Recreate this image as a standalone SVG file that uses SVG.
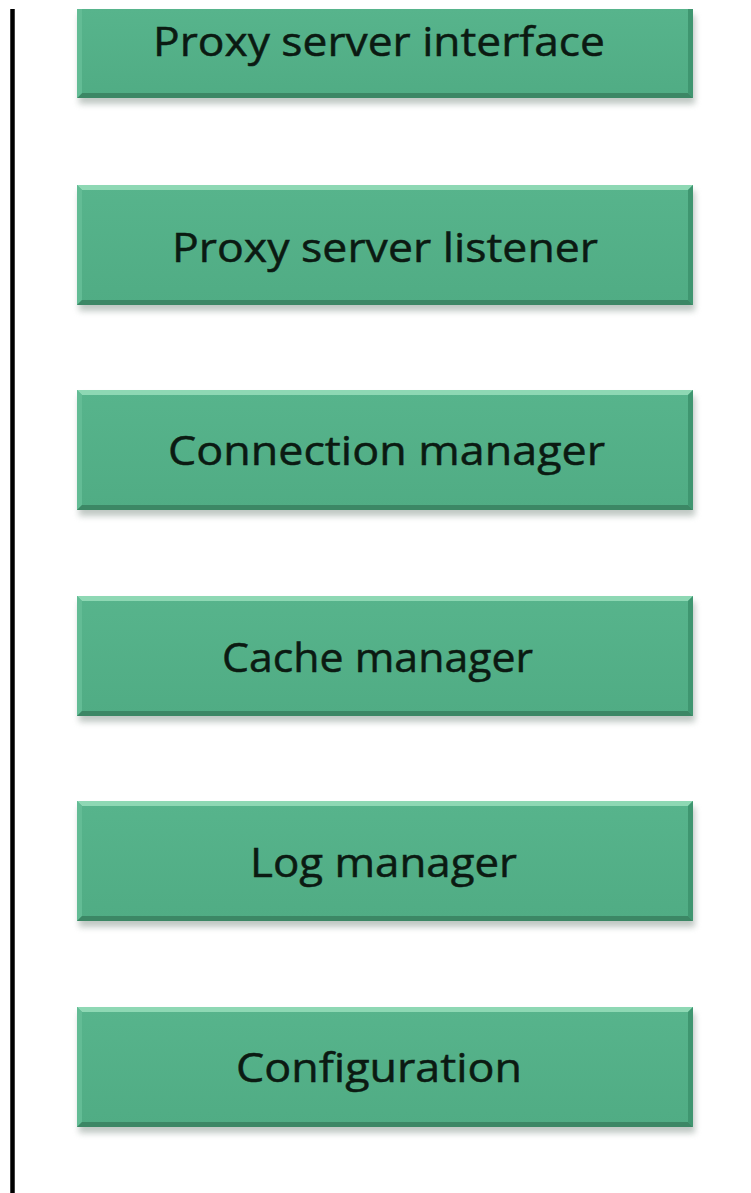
<svg xmlns="http://www.w3.org/2000/svg" width="751" height="1193" viewBox="0 0 751 1193">
<defs>
<filter id="sh" x="-5%" y="-20%" width="110%" height="150%"><feGaussianBlur stdDeviation="3"/></filter>
<linearGradient id="body" x1="0" y1="0" x2="0" y2="1">
<stop offset="0" stop-color="#57b48c"/><stop offset="1" stop-color="#50ac84"/>
</linearGradient>
<g id="box">
<rect x="2" y="6" width="616" height="120" fill="#8a9a92" opacity="0.55" filter="url(#sh)"/>
<rect x="0" y="0" width="616" height="120" fill="url(#body)"/>
<polygon points="0,0 616,0 611,5 5,5" fill="#8ed8b4"/>
<polygon points="0,0 5,5 5,115 0,120" fill="#63bc95"/>
<polygon points="616,0 616,120 611,115 611,5" fill="#3f9670"/>
<polygon points="0,120 616,120 611,115 5,115" fill="#3c8765"/>
</g>
</defs>
<style>
text{font-family:"Open Sans","Noto Sans",sans-serif;font-size:41px;fill:#0b1a12;stroke:#0b1a12;stroke-width:0.5px;}
</style>
<rect width="751" height="1193" fill="#ffffff"/>
<g id="connectors">
<line x1="12.5" y1="9" x2="12.5" y2="1193" stroke="#000" stroke-width="4.5"/>
</g>
<g id="n1">
<rect x="79" y="15" width="616" height="89" fill="#8a9a92" opacity="0.55" filter="url(#sh)"/>
<rect x="77" y="9" width="616" height="89" fill="url(#body)"/>
<polygon points="693,9 693,98 688,93 688,9" fill="#3f9670"/>
<polygon points="77,98 693,98 688,93 82,93" fill="#3c8765"/>
<polygon points="77,9 82,9 82,93 77,98" fill="#63bc95"/>
<text x="153" y="56" textLength="452" lengthAdjust="spacingAndGlyphs">Proxy server interface</text>
</g>
<g id="n2">
<use href="#box" x="77" y="185"/>
<text x="172" y="262" textLength="426" lengthAdjust="spacingAndGlyphs">Proxy server listener</text>
</g>
<g id="n3">
<use href="#box" x="77" y="390"/>
<text x="168" y="465" textLength="437" lengthAdjust="spacingAndGlyphs">Connection manager</text>
</g>
<g id="n4">
<use href="#box" x="77" y="596"/>
<text x="222" y="672" textLength="311" lengthAdjust="spacingAndGlyphs">Cache manager</text>
</g>
<g id="n5">
<use href="#box" x="77" y="801"/>
<text x="250" y="877" textLength="267" lengthAdjust="spacingAndGlyphs">Log manager</text>
</g>
<g id="n6">
<use href="#box" x="77" y="1007"/>
<text x="236" y="1082" textLength="286" lengthAdjust="spacingAndGlyphs">Configuration</text>
</g>
</svg>
